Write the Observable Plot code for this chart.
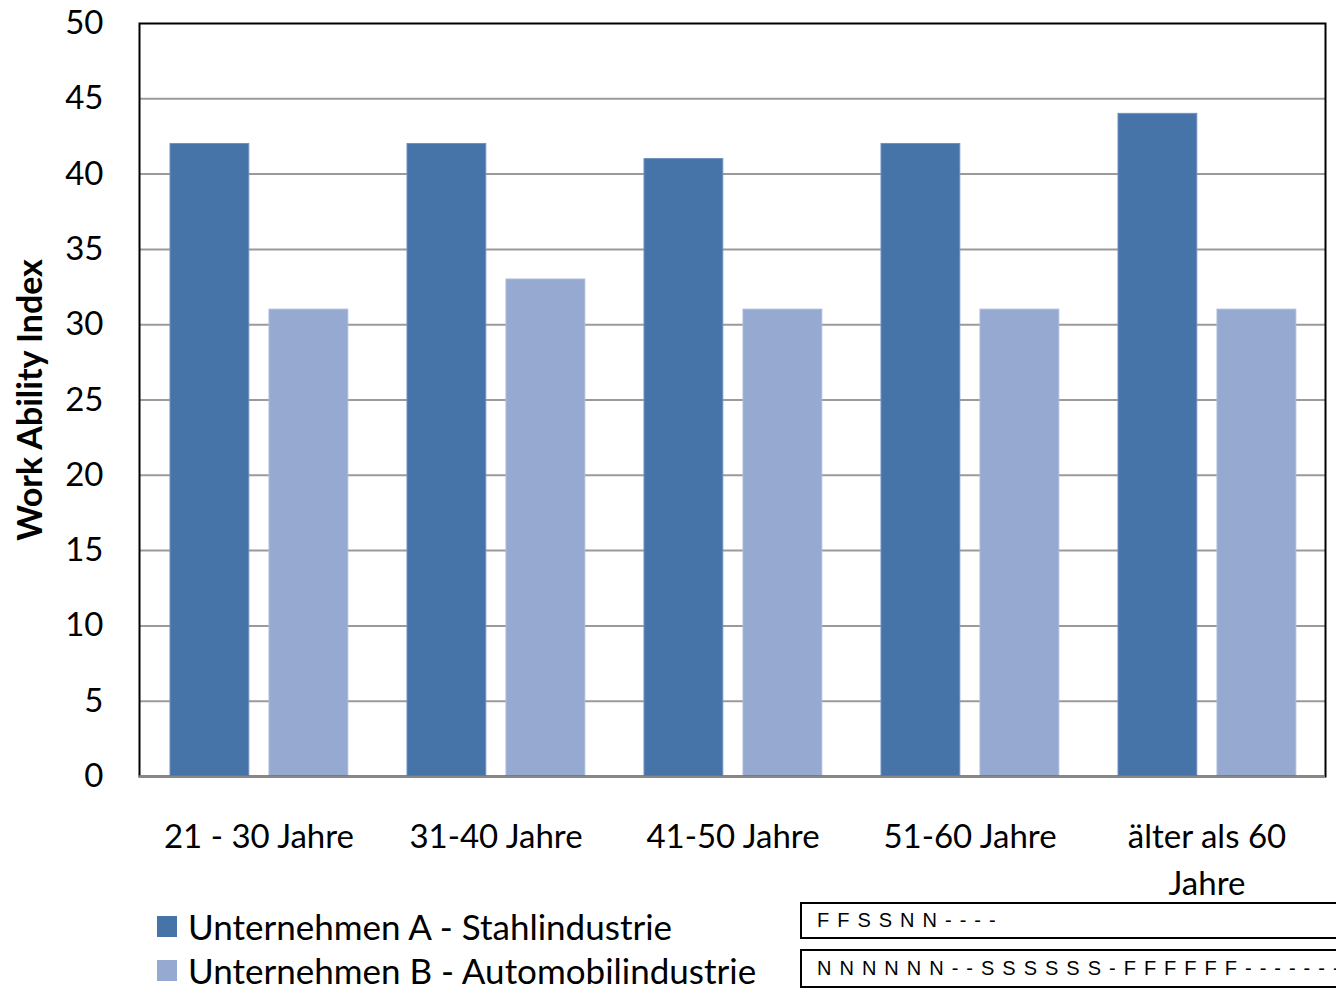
<!DOCTYPE html>
<html>
<head>
<meta charset="utf-8">
<script src="https://cdn.jsdelivr.net/npm/d3@7"></script>
<script src="https://cdn.jsdelivr.net/npm/@observablehq/plot@0.6"></script>
<style>
  html, body { margin: 0; padding: 0; background: #fff; overflow: hidden; }
  #wrap { position: relative; width: 1336px; height: 989px; }
  #chart { position: absolute; left: 0; top: 0; }
  .legend { position: absolute; left: 157px; top: 904px; font-family: Lato, sans-serif; font-size: 35px; line-height: 1.15; color: #000; }
  .legend .row { display: flex; align-items: center; height: 44px; }
  .legend .sw { width: 20px; height: 21px; margin-right: 11px; }
  .box { position: absolute; left: 800px; width: 600px; border: 2px solid #000; background: #fff; font-family: "Liberation Sans", Arial, sans-serif; font-size: 20px; letter-spacing: 8px; padding-left: 15px; box-sizing: border-box; white-space: nowrap; display: flex; align-items: center; }
</style>
</head>
<body>
<div id="wrap">
  <div id="chart"></div>
  <div class="legend" id="legend"></div>
  <div class="box" style="top:902px;height:37px;">FFSSNN----</div>
  <div class="box" style="top:949px;height:39px;">NNNNNN--SSSSSS-FFFFFF-------</div>
</div>
<script>
// Age groups and Work Ability Index per company
const categories = ["21 - 30 Jahre", "31-40 Jahre", "41-50 Jahre", "51-60 Jahre", "älter als 60\nJahre"];
const seriesNames = ["Unternehmen A - Stahlindustrie", "Unternehmen B - Automobilindustrie"];
const valuesA = [42, 42, 41, 42, 44];
const valuesB = [31, 33, 31, 31, 31];
const yTicks = [0, 5, 10, 15, 20, 25, 30, 35, 40, 45, 50];
const colors = ["#4673A8", "#95A9D1"];

const rowsA = categories.map((c, i) => ({category: c, value: valuesA[i]}));
const rowsB = categories.map((c, i) => ({category: c, value: valuesB[i]}));

const width = 1336, height = 989;
const marginLeft = 139, marginRight = 11;
const band = (width - marginLeft - marginRight) / categories.length;
const barW = 79, outer = 30, gap = 20;

const chart = Plot.plot({
  width, height,
  marginTop: 23, marginBottom: 213, marginLeft, marginRight,
  style: {fontFamily: "Lato, sans-serif", fontSize: "33px", color: "#000", background: "#fff"},
  x: {domain: categories, padding: 0, label: null},
  y: {domain: [0, 50], label: null},
  marks: [
    Plot.ruleY(yTicks.filter(d => d > 0 && d < 50), {stroke: "#9a9a9a", strokeWidth: 2}),
    Plot.barY(rowsA, {x: "category", y: "value", fill: colors[0], stroke: "#6f92bf", strokeWidth: 1,
      insetLeft: outer, insetRight: band - outer - barW}),
    Plot.barY(rowsB, {x: "category", y: "value", fill: colors[1], stroke: "#a9bada", strokeWidth: 1,
      insetLeft: outer + barW + gap, insetRight: band - outer - 2 * barW - gap}),
    Plot.frame({stroke: "#000", strokeWidth: 2}),
    Plot.ruleY([0], {stroke: "#888", strokeWidth: 2.5}),
    Plot.axisY(yTicks, {tickSize: 0, tickPadding: 36, fontSize: 33, label: null}),
    Plot.axisX({tickSize: 0, tickPadding: 39, fontSize: 33, lineHeight: 1.4, label: null}),
    Plot.text(["Work Ability Index"], {frameAnchor: "left", textAnchor: "middle", rotate: -90, dx: -108,
      fontSize: 34, fontWeight: "bold", fill: "#000"})
  ]
});
document.getElementById("chart").appendChild(chart);

const legend = document.getElementById("legend");
seriesNames.forEach((name, i) => {
  const row = document.createElement("div");
  row.className = "row";
  const sw = document.createElement("div");
  sw.className = "sw";
  sw.style.background = colors[i];
  const t = document.createElement("span");
  t.textContent = name;
  row.appendChild(sw);
  row.appendChild(t);
  legend.appendChild(row);
});
</script>
</body>
</html>
